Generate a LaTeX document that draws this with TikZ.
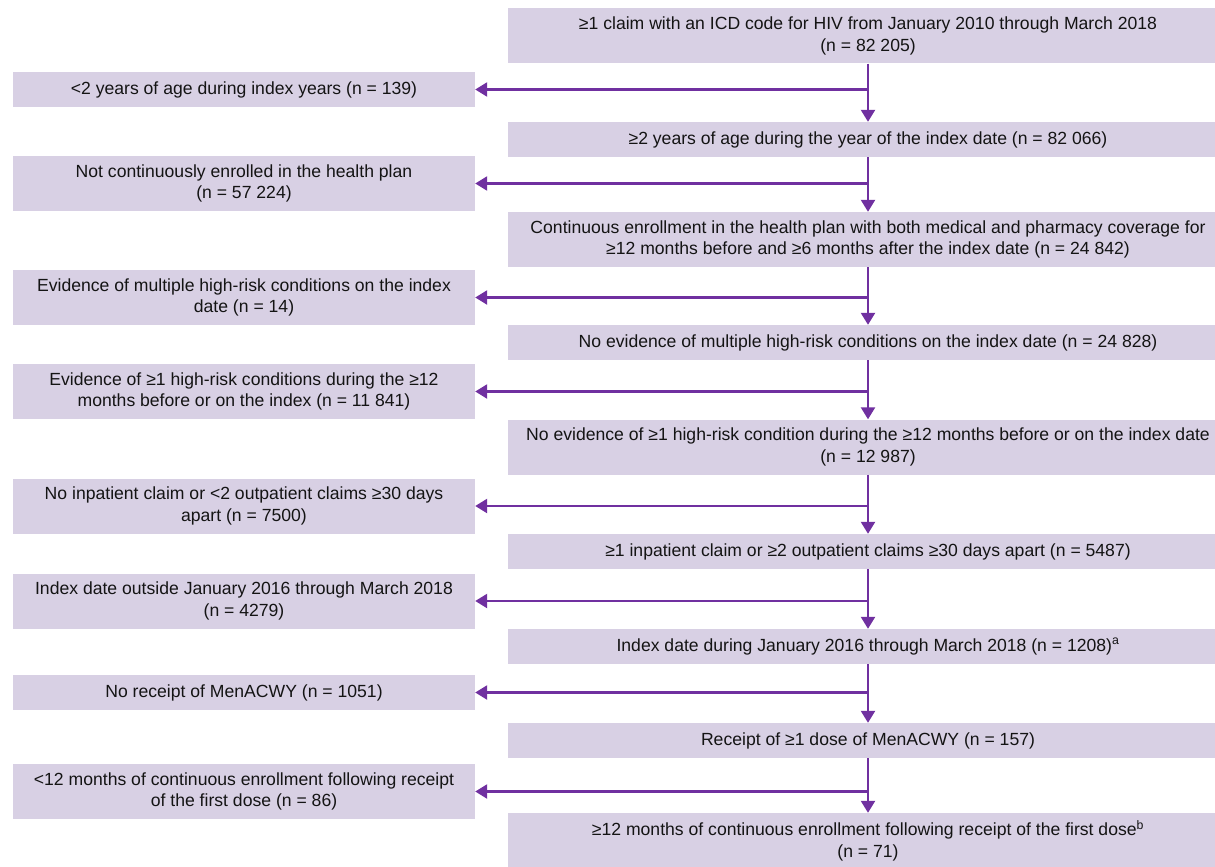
\documentclass[tikz,border=0pt]{standalone}
\usepackage{fontspec}
\setmainfont{Liberation Sans}
\usetikzlibrary{arrows.meta}
\definecolor{boxfill}{RGB}{216,208,228}
\definecolor{arrowpurple}{RGB}{112,48,160}
\definecolor{txt}{RGB}{20,20,20}
\tikzset{
  rbox/.style={fill=boxfill, draw=none, minimum width=720pt, inner sep=0pt, align=center, text=txt, font=\fontsize{17.6}{21.5}\selectfont},
  lbox/.style={fill=boxfill, draw=none, minimum width=462pt, inner sep=0pt, align=center, text=txt, font=\fontsize{17.6}{21.5}\selectfont},
  one/.style={minimum height=35pt},
  two/.style={minimum height=55pt},
  arr/.style={draw=arrowpurple, line width=2.4pt, -{Triangle[length=12pt,width=14pt]}},
}
\begin{document}
\begin{tikzpicture}[x=1pt,y=-1pt]
\useasboundingbox (0,0) rectangle (1215,867);
\clip (0,0) rectangle (1215,867);
\fill[white] (0,0) rectangle (1215,867);
% right column
\node[rbox,two] (r1) at (868,36) {≥1 claim with an ICD code for HIV from January 2010 through March 2018\\(n = 82 205)};
\node[rbox,one] (r2) at (868,139.5) {≥2 years of age during the year of the index date (n = 82 066)};
\node[rbox,two] (r3) at (868,239.5) {Continuous enrollment in the health plan with both medical and pharmacy coverage for\\≥12 months before and ≥6 months after the index date (n = 24 842)};
\node[rbox,one] (r4) at (868,342.5) {No evidence of multiple high-risk conditions on the index date (n = 24 828)};
\node[rbox,two] (r5) at (868,447) {No evidence of ≥1 high-risk condition during the ≥12 months before or on the index date\\(n = 12 987)};
\node[rbox,one] (r6) at (868,551.5) {≥1 inpatient claim or ≥2 outpatient claims ≥30 days apart (n = 5487)};
\node[rbox,one] (r7) at (868,646.5) {Index date during January 2016 through March 2018 (n = 1208)\textsuperscript{a}};
\node[rbox,one] (r8) at (868,740.5) {Receipt of ≥1 dose of MenACWY (n = 157)};
\node[rbox,two] (r9) at (868,840.5) {≥12 months of continuous enrollment following receipt of the first dose\textsuperscript{b}\\(n = 71)};
% left column
\node[lbox,one] (l1) at (244,89.5) {<2 years of age during index years (n = 139)};
\node[lbox,two] (l2) at (244,183.5) {Not continuously enrolled in the health plan\\(n = 57 224)};
\node[lbox,two] (l3) at (244,297.5) {Evidence of multiple high-risk conditions on the index\\date (n = 14)};
\node[lbox,two] (l4) at (244,391.5) {Evidence of ≥1 high-risk conditions during the ≥12\\months before or on the index (n = 11 841)};
\node[lbox,two] (l5) at (244,506) {No inpatient claim or <2 outpatient claims ≥30 days\\apart (n = 7500)};
\node[lbox,two] (l6) at (244,601) {Index date outside January 2016 through March 2018\\(n = 4279)};
\node[lbox,one] (l7) at (244,692.5) {No receipt of MenACWY (n = 1051)};
\node[lbox,two] (l8) at (244,791.5) {<12 months of continuous enrollment following receipt\\of the first dose (n = 86)};
% connectors
\foreach \a/\b/\l in {r1/r2/l1, r2/r3/l2, r3/r4/l3, r4/r5/l4, r5/r6/l5, r6/r7/l6, r7/r8/l7, r8/r9/l8}{
  \draw[arr] (\a.south) -- (\b.north);
  \draw[arr] (\a.south |- \l.east) -- (\l.east);
}
\end{tikzpicture}
\end{document}
